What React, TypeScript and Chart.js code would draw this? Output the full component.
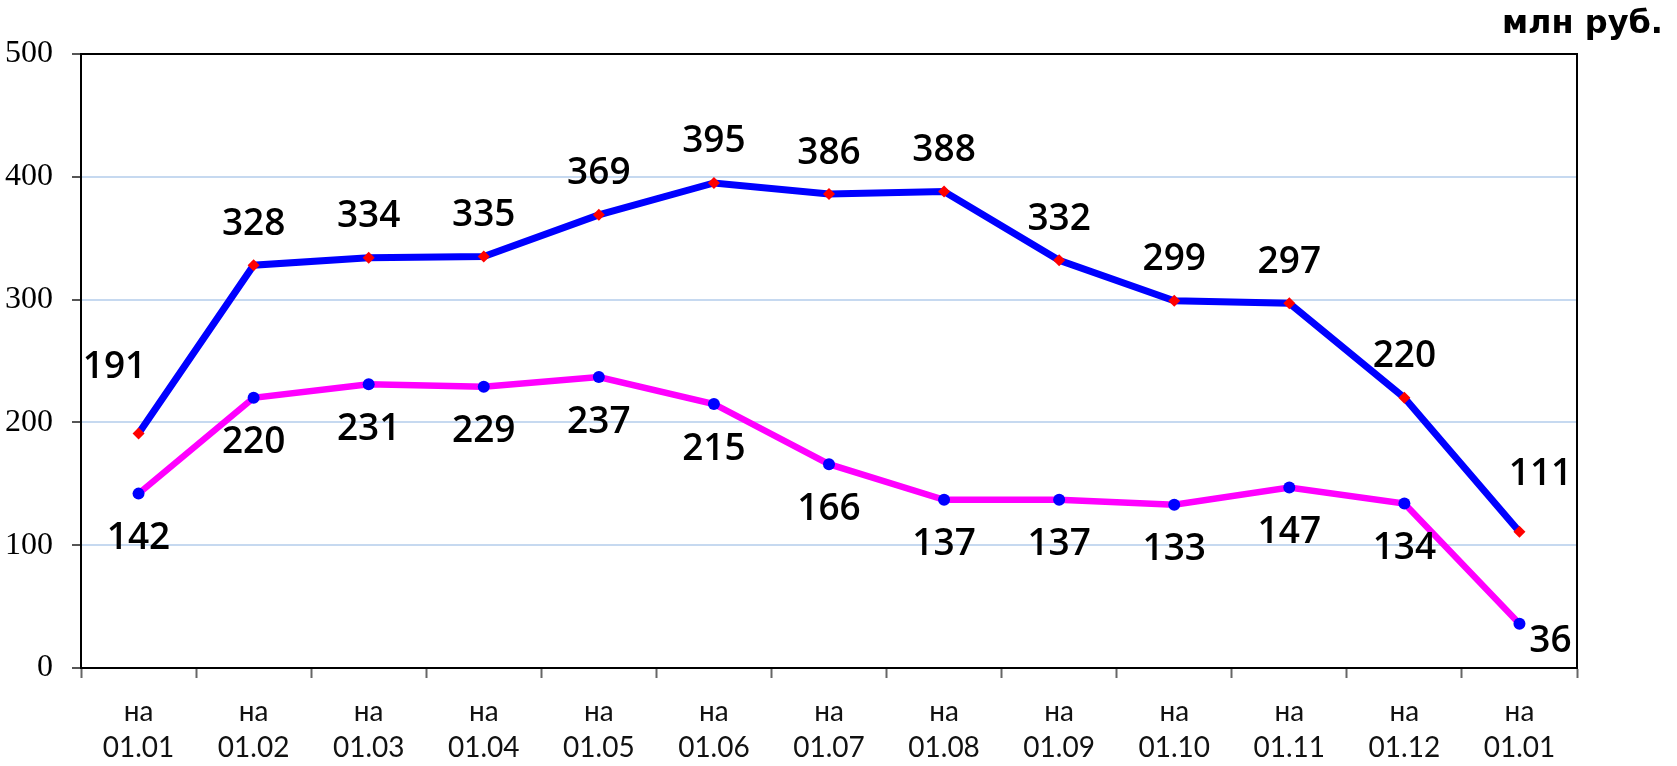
import React, { useEffect, useRef } from "react";
import { Chart, registerables } from "chart.js";

Chart.register(...registerables);

const datePrefix = "на";
const periodDates = ["01.01", "01.02", "01.03", "01.04", "01.05", "01.06", "01.07", "01.08", "01.09", "01.10", "01.11", "01.12", "01.01"];
const seriesUpper = [191, 328, 334, 335, 369, 395, 386, 388, 332, 299, 297, 220, 111];
const seriesLower = [142, 220, 231, 229, 237, 215, 166, 137, 137, 133, 147, 134, 36];
const yTicks = [0, 100, 200, 300, 400, 500];
const unitLabel = "млн руб.";

// label placement (dx, dy) relative to point, per dataset
const upperOffsets = periodDates.map((_, i) => (i === 0 ? [-24, -66] : i === periodDates.length - 1 ? [21, -57] : [0, -41]));
const lowerOffsets = periodDates.map((_, i) => (i === periodDates.length - 1 ? [31, 18] : [0, 45]));

const valueLabelPlugin = {
  id: "valueLabels",
  afterDatasetsDraw(chart: any) {
    const ctx = chart.ctx;
    const offsets = [upperOffsets, lowerOffsets];
    ctx.save();
    ctx.font = "600 37px 'Open Sans'";
    ctx.fillStyle = "#000";
    ctx.textAlign = "center";
    ctx.textBaseline = "middle";
    chart.data.datasets.forEach((ds: any, di: number) => {
      const meta = chart.getDatasetMeta(di);
      meta.data.forEach((pt: any, i: number) => {
        const [dx, dy] = offsets[di][i];
        ctx.fillText(String(ds.data[i]), pt.x + dx, pt.y + dy);
      });
    });
    ctx.restore();
  },
};

const framePlugin = {
  id: "frame",
  beforeDatasetsDraw(chart: any) {
    const { ctx, chartArea } = chart;
    ctx.save();
    ctx.strokeStyle = "#000";
    ctx.lineWidth = 2;
    ctx.beginPath();
    ctx.moveTo(chartArea.left, chartArea.top);
    ctx.lineTo(chartArea.right, chartArea.top);
    ctx.lineTo(chartArea.right, chartArea.bottom);
    ctx.stroke();
    ctx.restore();
  },
  afterDraw(chart: any) {
    const ctx = chart.ctx;
    ctx.save();
    ctx.font = "bold 32px 'DejaVu Sans'";
    ctx.fillStyle = "#000";
    ctx.textAlign = "right";
    ctx.textBaseline = "alphabetic";
    ctx.fillText(unitLabel, 1663, 33);
    ctx.restore();
  },
};

export default function App() {
  const canvasRef = useRef<HTMLCanvasElement | null>(null);

  useEffect(() => {
    if (!canvasRef.current) return;
    const chart = new Chart(canvasRef.current, {
      type: "line",
      data: {
        labels: periodDates.map((d) => [datePrefix, d]),
        datasets: [
          {
            data: seriesUpper,
            borderColor: "#0000FF",
            borderWidth: 7,
            pointStyle: "rectRot",
            pointRadius: 6,
            pointBackgroundColor: "#FF0000",
            pointBorderColor: "#FF0000",
            pointBorderWidth: 0,
            tension: 0,
          },
          {
            data: seriesLower,
            borderColor: "#FF00FF",
            borderWidth: 6.5,
            pointStyle: "circle",
            pointRadius: 6,
            pointBackgroundColor: "#0000FF",
            pointBorderColor: "#0000FF",
            pointBorderWidth: 0,
            tension: 0,
          },
        ],
      },
      options: {
        responsive: false,
        animation: false,
        layout: { padding: { top: 54, right: 100, left: 0, bottom: 0 } },
        plugins: { legend: { display: false }, tooltip: { enabled: false }, title: { display: false } },
        scales: {
          x: {
            offset: true,
            grid: { offset: true, drawOnChartArea: false, drawTicks: true, tickLength: 10, tickColor: "#666", tickWidth: 2 },
            border: { display: true, color: "#000", width: 2 },
            ticks: { font: { family: "Lato", size: 28, lineHeight: 1.32 }, color: "#111", padding: 15, maxRotation: 0, autoSkip: false },
            afterFit: (s: any) => { s.height = 98; },
          },
          y: {
            min: yTicks[0],
            max: yTicks[yTicks.length - 1],
            afterBuildTicks: (s: any) => { s.ticks = yTicks.map((v) => ({ value: v })); },
            grid: {
              color: (c: any) => (c.tick && c.tick.value > yTicks[0] && c.tick.value < yTicks[yTicks.length - 1] ? "#C6D9F0" : "rgba(0,0,0,0)"),
              lineWidth: 2,
              drawTicks: true,
              tickLength: 9,
              tickColor: "#555",
              tickWidth: 2,
            },
            border: { display: true, color: "#000", width: 2 },
            ticks: { font: { family: "'Liberation Serif'", size: 32 }, color: "#000", padding: 19 },
            afterFit: (s: any) => { s.width = 81; },
          },
        },
      },
      plugins: [valueLabelPlugin, framePlugin],
    });
    return () => chart.destroy();
  }, []);

  return (
    <div style={{ position: "fixed", left: 0, top: 0, width: 1677, height: 766, background: "#fff" }}>
      <canvas ref={canvasRef} width={1677} height={766} />
    </div>
  );
}
